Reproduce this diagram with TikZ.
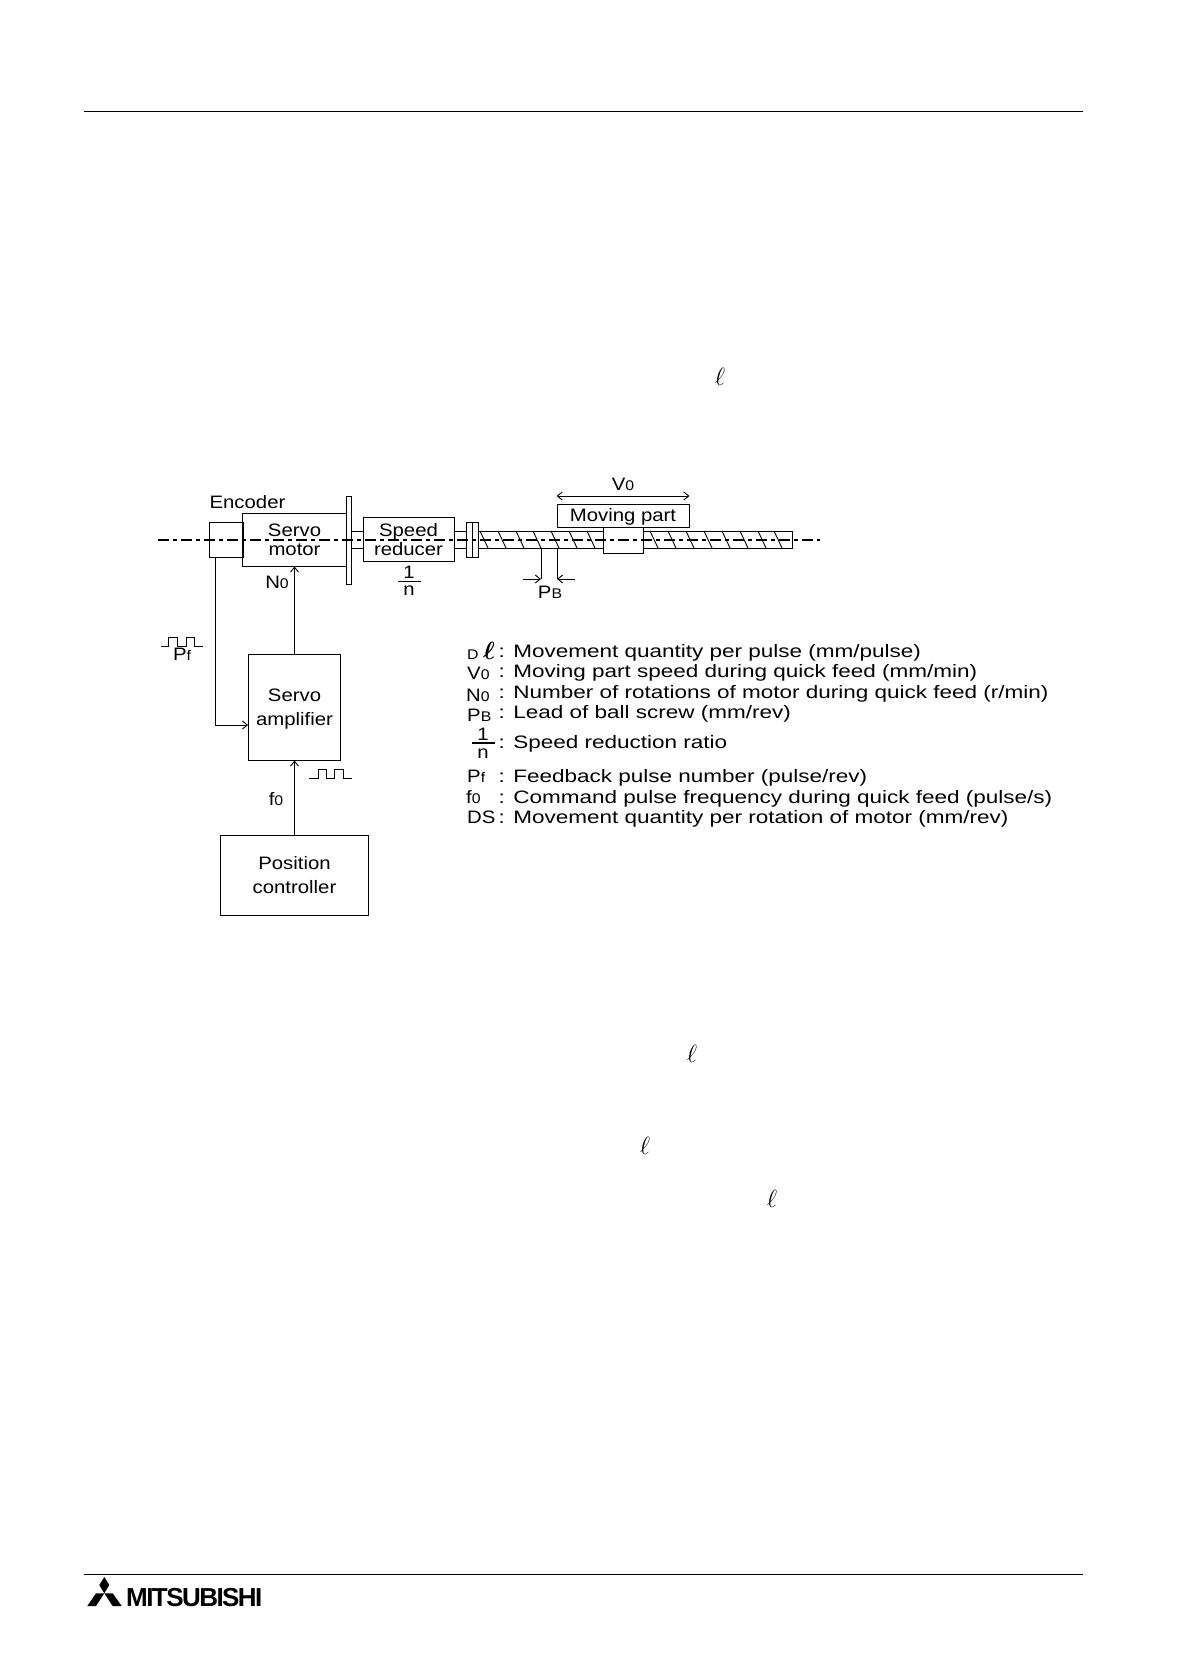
\documentclass[tikz,border=0pt]{standalone}
\usepackage{amsmath,amssymb}
\usepackage{fontspec}
\setmainfont[FakeStretch=1.13]{Liberation Sans}
\newfontfamily\legendfont[FakeStretch=1.25]{Liberation Sans}
\newfontfamily\logofont[LetterSpace=-6.0]{Liberation Sans}
\usetikzlibrary{arrows.meta}
\newcommand{\lowtxt}[1]{{\fontsize{14}{14}\selectfont #1}}
\tikzset{
  partbox/.style={draw=black, line width=0.9pt, inner sep=0pt, align=center, fill=none},
  plainlabel/.style={inner sep=0pt, anchor=base},
  legendlabel/.style={inner sep=0pt, anchor=base west, font=\fontsize{18}{18}\legendfont},
  symlabel/.style={inner sep=0pt, anchor=base west},
  sigarrow/.style={-{Straight Barb[length=5pt,width=8pt]}, line width=0.9pt},
  thinline/.style={line width=0.9pt},
  centerline/.style={line width=1.8pt, dash pattern=on 11pt off 4pt on 4pt off 4pt},
  ruleline/.style={line width=0.9pt},
  scriptell/.style={inner sep=0pt, font=\fontsize{26}{26}\selectfont},
}

\begin{document}
\begin{tikzpicture}[x=1pt, y=-1pt, font=\fontsize{18}{19}\selectfont]
  \useasboundingbox (0,0) rectangle (1178,1676);

  % Page rules
  \coordinate (topleft) at (84,111);
  \coordinate (topright) at (1083,111);
  \coordinate (botleft) at (84,1574);
  \coordinate (botright) at (1083,1574);
  \draw[ruleline] (topleft) -- (topright);
  \draw[ruleline] (botleft) -- (botright);

  % Loose script letters
  \node[scriptell] (ella) at (720,377) {$\ell$};
  \node[scriptell] (ellb) at (692,1054) {$\ell$};
  \node[scriptell] (ellc) at (645,1146) {$\ell$};
  \node[scriptell] (elld) at (772,1199) {$\ell$};

  % Motor side
  \node[partbox, minimum width=34pt, minimum height=35pt] (encoder) at (226,539.5) {};
  \node[partbox, minimum width=104pt, minimum height=53pt] (motor) at (294.5,539.5) {Servo\\motor};
  \node[partbox, minimum width=5pt, minimum height=88pt] (flange) at (349,540) {};
  \node[partbox, minimum width=91pt, minimum height=44pt] (reducer) at (408.5,539.5) {Speed\\reducer};
  \node[partbox, minimum width=12pt, minimum height=35pt] (coupling) at (472,539.5) {};
  \node[plainlabel] (enclabel) at (247.5,508) {Encoder};
  \draw[thinline] (coupling.north) -- (coupling.south);

  % Short shafts
  \draw[thinline] (352,531) -- (363,531) (352,548) -- (363,548);
  \draw[thinline] (454,531) -- (466,531) (454,548) -- (466,548);

  % Ball screw
  \node[partbox, minimum width=314pt, minimum height=17pt] (screw) at (635,539.5) {};
  \foreach \tx in {480,498,516,533,551,569,587,650,668,686,704,722,740,758,774}
    \draw[thinline] (\tx,531) -- ++(8,17);
  \node[partbox, fill=white, minimum width=40pt, minimum height=26pt] (nut) at (623,540) {};
  \node[partbox, minimum width=132pt, minimum height=23pt] (moving) at (623,515.5) {};
  \node[plainlabel] (movlabel) at (623,521.5) {Moving part};

  % Centre line
  \coordinate (lineleft) at (158,540);
  \coordinate (lineright) at (820,540);
  \draw[centerline] (lineleft) -- (lineright);

  % Speed of moving part
  \draw[{Straight Barb[length=5pt,width=8pt]}-{Straight Barb[length=5pt,width=8pt]}, line width=0.9pt]
    (moving.north west |- 0,496) -- (moving.north east |- 0,496);
  \node[plainlabel] (vlabel) at (623,490) {V\lowtxt{0}};

  % Lead of screw
  \coordinate (leada) at (541,548);
  \coordinate (leadb) at (557,548);
  \coordinate (leadaend) at (541,579);
  \coordinate (leadbend) at (557,579);
  \draw[thinline] (leada) -- (leadaend);
  \draw[thinline] (leadb) -- (leadbend);
  \draw[sigarrow] (523,579) -- (leadaend);
  \draw[sigarrow] (575,579) -- (leadbend);
  \node[plainlabel] (plabel) at (550,598) {P\lowtxt{B}};

  % Reduction ratio
  \node[plainlabel] (ratioa) at (409,578) {1};
  \node[plainlabel] (ration) at (409,595) {n};
  \draw[thinline] (398,581) -- (421,581);

  % Control side
  \node[partbox, minimum width=92pt, minimum height=106pt] (amp) at (294.5,707) {};
  \node[plainlabel] (amplabela) at (294.5,701) {Servo};
  \node[plainlabel] (amplabelb) at (294.5,725) {amplifier};
  \node[partbox, minimum width=148pt, minimum height=80pt] (ctrl) at (294.5,875) {};
  \node[plainlabel] (ctrllabela) at (294.5,869) {Position};
  \node[plainlabel] (ctrllabelb) at (294.5,893) {controller};
  \draw[sigarrow] (amp.north) -- (motor.south);
  \draw[sigarrow] (ctrl.north) -- (amp.south);
  \draw[sigarrow] (encoder.south -| 215,0) |- (amp.west |- 0,725);
  \node[plainlabel] (nlabel) at (277,588) {N\lowtxt{0}};
  \node[plainlabel] (flabel) at (276,805) {f\lowtxt{0}};

  % Pulse trains
  \draw[thinline] (161,646) -- (168,646) -- (168,637) -- (177,637) -- (177,646) -- (186,646) -- (186,637) -- (194,637) -- (194,646) -- (203,646);
  \node[plainlabel] (pflabel) at (182,660) {P\lowtxt{f}};
  \draw[thinline] (309,778) -- (318,778) -- (318,769) -- (326,769) -- (326,778) -- (334,778) -- (334,769) -- (343,769) -- (343,778) -- (352,778);

  % Legend
  \node[symlabel] (symd) at (467,659) {\lowtxt{D}};
  \node[inner sep=0pt, font=\fontsize{27}{27}\selectfont\boldmath] (symell) at (489,651) {$\ell$};
  \node[legendlabel] (txta) at (498.5,657.5) {: Movement quantity per pulse (mm/pulse)};
  \node[symlabel] (symv) at (467,679) {V\lowtxt{0}};
  \node[legendlabel] (txtb) at (498.5,677.5) {: Moving part speed during quick feed (mm/min)};
  \node[symlabel] (symn) at (466,701) {N\lowtxt{0}};
  \node[legendlabel] (txtc) at (498.5,698) {: Number of rotations of motor during quick feed (r/min)};
  \node[symlabel] (symp) at (467,721) {P\lowtxt{B}};
  \node[legendlabel] (txtd) at (498.5,718) {: Lead of ball screw (mm/rev)};
  \node[plainlabel] (syma) at (483,740) {1};
  \node[plainlabel] (symb) at (483,758) {n};
  \draw[line width=2.2pt] (472,743) -- (495,743);
  \node[legendlabel] (txte) at (498.5,748) {: Speed reduction ratio};
  \node[symlabel] (symf) at (467,782) {P\lowtxt{f}};
  \node[legendlabel] (txtf) at (498.5,782.5) {: Feedback pulse number (pulse/rev)};
  \node[symlabel] (symg) at (466,803) {f\lowtxt{0}};
  \node[legendlabel] (txtg) at (498.5,803) {: Command pulse frequency during quick feed (pulse/s)};
  \node[symlabel] (symh) at (467,823) {DS};
  \node[legendlabel] (txth) at (498.5,823) {: Movement quantity per rotation of motor (mm/rev)};

  % Logo
  \fill (104.3,1577) -- (109.3,1585) -- (104.3,1593.3) -- (99.3,1585) -- cycle;
  \fill (87.3,1606) -- (96,1593.3) -- (104.3,1593.3) -- (96,1606) -- cycle;
  \fill (104.3,1593.3) -- (112.7,1593.3) -- (121.7,1606) -- (112.7,1606) -- cycle;
  \node[symlabel, font=\fontsize{26}{26}\logofont\bfseries] (logotext) at (126,1606) {MITSUBISHI};
\end{tikzpicture}
\end{document}
